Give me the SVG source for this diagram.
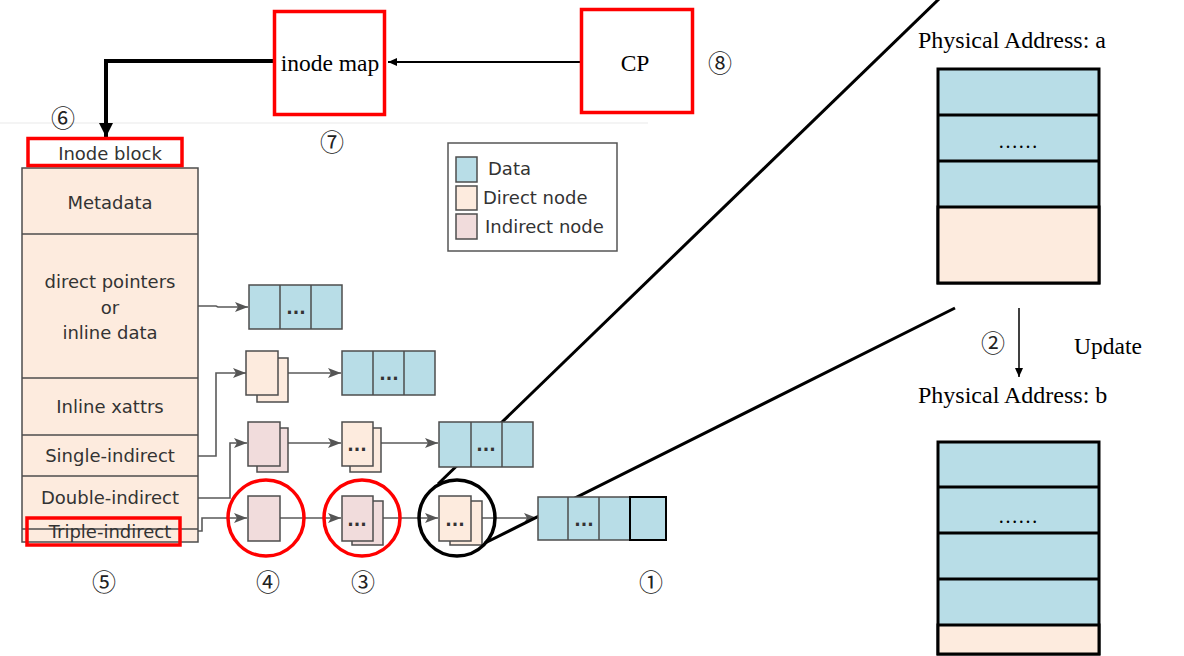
<svg xmlns="http://www.w3.org/2000/svg" width="1184" height="656" viewBox="0 0 1184 656">
<style>
.serif{font-family:"Liberation Serif","Times New Roman",serif;fill:#000}
.sans{font-family:"DejaVu Sans","Noto Sans",sans-serif;fill:#333}
.num{font-family:"Noto Sans CJK SC","DejaVu Sans",sans-serif;font-size:24px;fill:#222;text-anchor:middle}
.red{fill:none;stroke:#ff0000;stroke-width:3.5}
.cell{stroke:#4d4d4d;stroke-width:1.5}
.data{fill:#b8dde7}
.dir{fill:#fdebde}
.ind{fill:#f1dcdc}
.conn{fill:none;stroke:#5a5a5a;stroke-width:1.6}
.dots{font-family:"DejaVu Sans",sans-serif;font-size:17px;font-weight:bold;fill:#333;text-anchor:middle}
.blk{stroke:#000;stroke-width:3}
</style>
<defs>
<marker id="ga" markerUnits="userSpaceOnUse" markerWidth="14" markerHeight="10" refX="13" refY="5" orient="auto">
<path d="M0,0 L13,5 L0,10 L3,5 z" fill="#555"/>
</marker>
<marker id="ba" markerUnits="userSpaceOnUse" markerWidth="16" markerHeight="16" refX="14" refY="8" orient="auto">
<path d="M0,1 L14,8 L0,15 z" fill="#000"/>
</marker>
<marker id="bs" markerUnits="userSpaceOnUse" markerWidth="10" markerHeight="10" refX="9" refY="5" orient="auto">
<path d="M0,1 L9,5 L0,9 z" fill="#000"/>
</marker>
</defs>
<rect width="1184" height="656" fill="#fff"/>
<line x1="0" y1="123" x2="648" y2="123" stroke="#f1f1f1" stroke-width="1.5"/>

<g id="connectors">
<path class="conn" d="M198,306 H216 L218,307 H248" marker-end="url(#ga)"/>
<path class="conn" d="M198,456 H216 V373 H246" marker-end="url(#ga)"/>
<path class="conn" d="M278,373 H341" marker-end="url(#ga)"/>
<path class="conn" d="M198,498 H230 V443 H247" marker-end="url(#ga)"/>
<path class="conn" d="M280,443 H341" marker-end="url(#ga)"/>
<path class="conn" d="M373,443 H438" marker-end="url(#ga)"/>
<path class="conn" d="M198,531 H202 V518 H247" marker-end="url(#ga)"/>
<path class="conn" d="M280,518 H341" marker-end="url(#ga)"/>
<path class="conn" d="M373,518 H438" marker-end="url(#ga)"/>
<path class="conn" d="M471,518 H537" marker-end="url(#ga)"/>
<path d="M273,61 H106 V137" fill="none" stroke="#000" stroke-width="4" marker-end="url(#ba)"/>
<path d="M580,62 H388" fill="none" stroke="#000" stroke-width="2" marker-end="url(#bs)"/>
<path d="M1019,308 V377" fill="none" stroke="#000" stroke-width="1.5" marker-end="url(#bs)"/>
<line x1="438" y1="484" x2="940" y2="-2" stroke="#000" stroke-width="3"/>
<line x1="485" y1="543" x2="955" y2="308" stroke="#000" stroke-width="3"/>
</g>

<g id="inode-map">
<rect x="274.5" y="11.5" width="110" height="103" class="red"/>
<text x="330" y="71" class="serif" font-size="23.5" text-anchor="middle">inode map</text>
<text x="332" y="151" class="num">⑦</text>
</g>

<g id="cp">
<rect x="581.5" y="9.5" width="111" height="103" class="red"/>
<text x="635" y="71" class="serif" font-size="23.5" text-anchor="middle">CP</text>
<text x="720" y="72" class="num">⑧</text>
</g>

<g id="inode-block">
<rect x="22" y="168" width="176" height="374" class="dir cell"/>
<line class="cell" x1="22" y1="234" x2="198" y2="234"/>
<line class="cell" x1="22" y1="378" x2="198" y2="378"/>
<line class="cell" x1="22" y1="435" x2="198" y2="435"/>
<line class="cell" x1="22" y1="476" x2="198" y2="476"/>
<line class="cell" x1="22" y1="529" x2="198" y2="529"/>
<g class="sans" font-size="18" text-anchor="middle">
<text x="110" y="160">Inode block</text>
<text x="110" y="209">Metadata</text>
<text x="110" y="288">direct pointers</text>
<text x="110" y="314">or</text>
<text x="110" y="339">inline data</text>
<text x="110" y="413">Inline xattrs</text>
<text x="110" y="462">Single-indirect</text>
<text x="110" y="504">Double-indirect</text>
<text x="110" y="538">Triple-indirect</text>
</g>
<rect x="28" y="138.5" width="154" height="27" class="red"/>
<rect x="27" y="518" width="153" height="27" class="red"/>
<text x="63" y="127" class="num">⑥</text>
<text x="104" y="591" class="num">⑤</text>
</g>

<g id="legend">
<rect x="448" y="143" width="169" height="108" fill="#fff" stroke="#555" stroke-width="1.5"/>
<rect x="456" y="157" width="21" height="25" class="data cell"/>
<rect x="456" y="186" width="21" height="24" class="dir cell"/>
<rect x="456" y="214" width="21" height="25" class="ind cell"/>
<g class="sans" font-size="18">
<text x="488" y="175">Data</text>
<text x="483" y="204">Direct node</text>
<text x="485" y="233">Indirect node</text>
</g>
</g>

<g id="data-direct">
<rect x="249" y="285" width="93" height="44" class="data cell"/>
<line class="cell" x1="280" y1="285" x2="280" y2="329"/>
<line class="cell" x1="311" y1="285" x2="311" y2="329"/>
<text x="296" y="314" class="dots">...</text>
</g>

<g id="single-indirect">
<rect x="257" y="358" width="31" height="44" class="dir cell"/>
<rect x="246" y="351" width="32" height="44" class="dir cell"/>
<rect x="342" y="351" width="93" height="44" class="data cell"/>
<line class="cell" x1="373" y1="351" x2="373" y2="395"/>
<line class="cell" x1="404" y1="351" x2="404" y2="395"/>
<text x="389" y="380" class="dots">...</text>
</g>

<g id="double-indirect">
<rect x="257" y="428" width="31" height="44" class="ind cell"/>
<rect x="248" y="422" width="32" height="44" class="ind cell"/>
<rect x="350" y="428" width="31" height="44" class="dir cell"/>
<rect x="342" y="422" width="31" height="44" class="dir cell"/>
<text x="357" y="451" class="dots">...</text>
<rect x="439" y="422" width="94" height="45" class="data cell"/>
<line class="cell" x1="471" y1="422" x2="471" y2="467"/>
<line class="cell" x1="502" y1="422" x2="502" y2="467"/>
<text x="486" y="451" class="dots">...</text>
</g>

<g id="triple-indirect">
<rect x="248" y="496" width="32" height="45" class="ind cell"/>
<rect x="352" y="501" width="31" height="44" class="ind cell"/>
<rect x="342" y="496" width="31" height="45" class="ind cell"/>
<text x="357" y="526" class="dots">...</text>
<rect x="450" y="501" width="32" height="44" class="dir cell"/>
<rect x="439" y="496" width="32" height="45" class="dir cell"/>
<text x="455" y="526" class="dots">...</text>
<rect x="538" y="497" width="92" height="43" class="data cell"/>
<line class="cell" x1="568" y1="497" x2="568" y2="540"/>
<line class="cell" x1="599" y1="497" x2="599" y2="540"/>
<text x="584" y="526" class="dots">...</text>
<rect x="630" y="497" width="36" height="43" class="data" stroke="#000" stroke-width="2"/>
<circle cx="266" cy="518" r="38" class="red"/>
<circle cx="362" cy="518" r="38" class="red"/>
<circle cx="457" cy="518" r="38" fill="none" stroke="#000" stroke-width="3.5"/>
<text x="268" y="591" class="num">④</text>
<text x="363" y="591" class="num">③</text>
<text x="651" y="591" class="num">①</text>
</g>

<g id="address-a">
<text x="918" y="48" class="serif" font-size="24">Physical Address: a</text>
<rect x="938" y="69" width="161" height="214" class="data blk"/>
<rect x="938" y="207" width="161" height="76" class="dir blk"/>
<line class="blk" x1="938" y1="115" x2="1099" y2="115"/>
<line class="blk" x1="938" y1="161" x2="1099" y2="161"/>
<text x="1018" y="148" class="serif" font-size="20" text-anchor="middle">……</text>
</g>

<g id="update">
<text x="993" y="352" class="num">②</text>
<text x="1074" y="354" class="serif" font-size="23.5">Update</text>
</g>

<g id="address-b">
<text x="918" y="403" class="serif" font-size="24">Physical Address: b</text>
<rect x="938" y="442" width="161" height="212" class="data blk"/>
<rect x="938" y="625" width="161" height="29" class="dir blk"/>
<line class="blk" x1="938" y1="487" x2="1099" y2="487"/>
<line class="blk" x1="938" y1="533" x2="1099" y2="533"/>
<line class="blk" x1="938" y1="579" x2="1099" y2="579"/>
<text x="1018" y="523" class="serif" font-size="20" text-anchor="middle">……</text>
</g>
</svg>
